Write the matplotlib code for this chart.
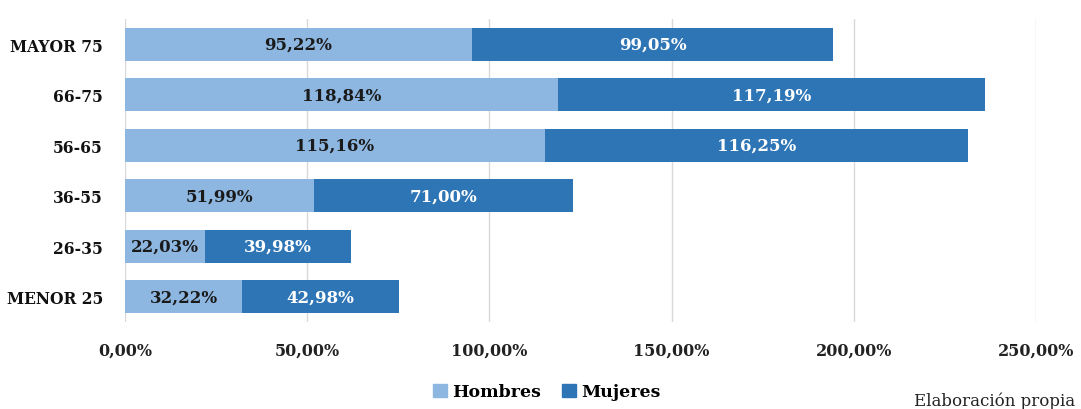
import numpy as np
import matplotlib.pyplot as plt
from matplotlib.patches import Patch

categorias = ['MAYOR 75', '66-75', '56-65', '36-55', '26-35', 'MENOR 25']
hombres = [95.22, 118.84, 115.16, 51.99, 22.03, 32.22]
mujeres = [99.05, 117.19, 116.25, 71.00, 39.98, 42.98]
ticks = [0, 50, 100, 150, 200, 250]

c_hom = '#8db7e0'
c_muj = '#2e75b6'

plt.rcParams['font.family'] = ['DejaVu Serif']

fig = plt.figure(figsize=(10.81, 4.10), dpi=100)
ax = fig.add_axes([125 / 1081, 1 - 323 / 410, (1036 - 125) / 1081, 303 / 410])

y = np.arange(len(categorias))[::-1]
h = np.array(hombres)
m = np.array(mujeres)

ax.barh(y, h, height=0.66, color=c_hom, zorder=2)
ax.barh(y, m, left=h, height=0.66, color=c_muj, zorder=2)

fmt = lambda v: f'{v:.2f}'.replace('.', ',') + '%'
for yi, hv, mv in zip(y, h, m):
    ax.text(hv / 2, yi, fmt(hv), ha='center', va='center', fontsize=12,
            color='#1a1a1a', fontweight='bold', zorder=3)
    ax.text(hv + mv / 2, yi, fmt(mv), ha='center', va='center', fontsize=12,
            color='white', fontweight='bold', zorder=3)

ax.set_xlim(0, 250)
ax.set_ylim(-0.5, len(categorias) - 0.5)
ax.set_xticks(ticks)
ax.set_xticklabels([fmt(t) for t in ticks], fontsize=11.5, fontweight='bold', color='#222222')
ax.set_yticks(y)
ax.set_yticklabels(categorias, fontsize=11.2, fontweight='bold', color='#111111')
ax.tick_params(axis='both', length=0)
ax.tick_params(axis='x', pad=14)
ax.tick_params(axis='y', pad=16)
ax.grid(axis='x', color='#d9d9d9', linewidth=1, zorder=0)
for s in ax.spines.values():
    s.set_visible(False)

handles = [Patch(color=c_hom, label='Hombres'), Patch(color=c_muj, label='Mujeres')]
fig.legend(handles=handles, loc='center', bbox_to_anchor=(547 / 1081, 1 - 393 / 410),
           ncol=2, frameon=False, prop={'size': 12.5, 'weight': 'bold'},
           handlelength=0.8, handleheight=0.8, handletextpad=0.3, columnspacing=1.2)

fig.text(1075 / 1081, 1 - 401 / 410, 'Elaboración propia', ha='right', va='center',
         fontsize=12, fontweight='normal', color='#222222')

fig.savefig('out.png', dpi=100)
